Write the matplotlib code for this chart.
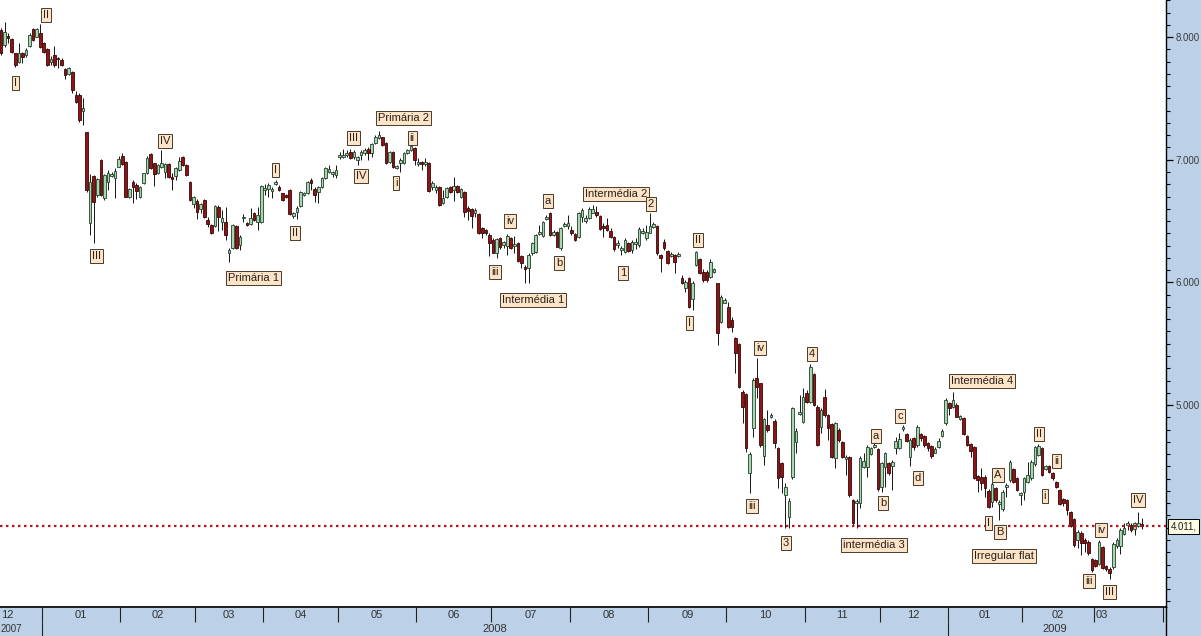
import matplotlib
matplotlib.use("Agg")
import matplotlib.pyplot as plt
import numpy as np
from matplotlib.ticker import MultipleLocator, FixedLocator, FuncFormatter

# ---------------- data ----------------
opens = [8057,7935,8009,7982,7867,7799,7872,7854,7929,8066,8003,8030,7949,7900,7799,7854,7832,7813,7737,7696,
         7718,7528,7528,7400,7223,6482,6870,6712,6998,6686,6821,6870,6848,6943,7030,6984,6694,6821,6794,6694,
         6808,6894,7047,6971,6889,6938,6902,6965,6862,6870,6916,7020,6957,6821,6639,6666,6598,6672,6509,6468,
         6460,6617,6495,6495,6237,6278,6460,6305,6522,6487,6476,6568,6495,6495,6753,6759,6745,6802,6780,6726,
         6712,6753,6541,6576,6623,6712,6726,6835,6759,6739,6775,6848,6902,6884,6875,7020,7025,7038,7065,7020,
         6998,7038,7052,7085,7057,7134,7175,7183,7139,6984,7065,6930,6971,6971,7052,7079,7093,6965,6984,6965,
         6971,6780,6753,6780,6650,6699,6780,6753,6786,6694,6739,6604,6596,6568,6557,6441,6427,6386,6346,6237,
         6359,6305,6297,6359,6297,6324,6215,6128,6115,6237,6250,6394,6378,6514,6568,6386,6413,6278,6460,6460,
         6427,6394,6372,6535,6500,6522,6568,6576,6541,6460,6468,6421,6372,6305,6264,6250,6324,6264,6313,6305,
         6405,6359,6405,6454,6460,6223,6332,6258,6215,6223,6215,6033,5952,6033,5862,6142,6188,6087,6087,6047,
         6087,5992,5680,5835,5802,5693,5544,5498,5109,5090,4444,4810,5218,5177,4585,4837,4900,4872,4647,4530,
         4267,4085,4416,4701,4927,4864,5101,5027,5253,4987,4824,5063,4919,4846,4566,4797,4701,4558,4574,4226,
         4204,4199,4498,4498,4601,4655,4639,4334,4493,4530,4503,4647,4647,4802,4764,4574,4729,4674,4764,4748,
         4688,4666,4612,4655,4748,4851,5014,4987,5000,4884,4892,4748,4682,4655,4422,4416,4416,4302,4212,4321,
         4193,4150,4330,4389,4476,4403,4267,4294,4375,4403,4519,4593,4647,4476,4503,4449,4375,4307,4232,4226,
         4131,4069,3900,3960,3900,3886,3743,3737,3704,3840,3688,3661,3677,3851,3851,3949,4022,4022,3987,4014,
         4030]
highs = [8071,8125,8030,7990,7872,7949,7881,7908,8030,8071,8071,8106,7962,7908,7846,7927,7840,7827,7745,7758,
         7723,7560,7541,7501,7228,6884,6875,6848,7003,6884,6916,6902,6930,7030,7057,6992,6767,6835,6808,6786,
         6894,7030,7057,6976,6965,7079,6976,6976,6889,6938,7025,7030,6965,6829,6704,6677,6650,6677,6531,6476,
         6631,6631,6590,6617,6278,6476,6468,6386,6557,6495,6604,6576,6612,6794,6802,6808,6775,6835,6794,6731,
         6720,6759,6576,6623,6745,6739,6829,6848,6775,6786,6862,6943,6957,6910,6957,7065,7085,7079,7085,7079,
         7030,7079,7093,7101,7134,7201,7236,7188,7147,7073,7073,6957,7011,7065,7085,7139,7101,7011,6992,7011,
         6984,6829,6794,6786,6753,6780,6786,6862,6794,6767,6747,6623,6604,6604,6563,6454,6433,6400,6359,6359,
         6372,6340,6394,6372,6378,6332,6223,6142,6237,6332,6394,6468,6503,6549,6576,6427,6421,6449,6495,6549,
         6460,6405,6571,6604,6549,6612,6631,6623,6549,6482,6522,6441,6378,6346,6297,6359,6332,6346,6359,6449,
         6441,6468,6563,6495,6468,6231,6351,6264,6250,6231,6250,6060,6019,6041,6014,6258,6196,6107,6101,6188,
         6115,5997,5897,5870,5843,5720,5557,5503,5123,5101,4620,5218,5381,5182,4892,4960,4933,4884,4660,4538,
         4362,4240,4987,4810,5082,5137,5123,5335,5264,5000,4973,5128,4927,4856,4864,4810,4709,4593,4585,4232,
         4232,4585,4607,4674,4660,4688,4647,4538,4620,4538,4552,4742,4770,4837,4775,4729,4742,4837,4775,4756,
         4701,4674,4660,4729,4802,5055,5027,5109,5014,4919,4905,4756,4693,4666,4430,4484,4430,4313,4375,4334,
         4226,4307,4362,4552,4484,4411,4294,4416,4538,4552,4666,4682,4655,4511,4511,4457,4383,4313,4240,4232,
         4139,4077,3981,3976,3914,3900,3751,3743,3900,3851,3696,3682,3886,3914,3995,4036,4057,4036,4049,4131,
         4077]
lows = [7854,7921,7949,7872,7758,7786,7786,7840,7921,7970,7998,7908,7872,7764,7772,7758,7745,7764,7656,7691,
        7546,7465,7310,7283,6739,6386,6324,6699,6704,6672,6753,6862,6686,6938,6957,6694,6686,6650,6677,6686,
        6802,6884,6922,6786,6884,6930,6848,6848,6753,6835,6910,6949,6867,6666,6604,6514,6568,6522,6454,6392,
        6454,6421,6427,6346,6169,6270,6270,6264,6495,6460,6468,6503,6427,6487,6712,6694,6686,6794,6745,6666,
        6686,6549,6522,6514,6617,6704,6720,6753,6658,6650,6767,6840,6889,6862,6848,7003,7011,7025,7003,7003,
        6957,6998,7038,6998,7025,7126,7169,7112,6963,6976,6935,6922,6902,6965,7047,7073,6957,6949,6916,6949,
        6739,6753,6726,6623,6639,6690,6731,6666,6731,6686,6535,6509,6441,6535,6394,6359,6386,6215,6237,6196,
        6275,6278,6223,6270,6237,6169,6115,5997,5992,6223,6242,6386,6372,6509,6378,6378,6286,6264,6449,6433,
        6386,6340,6359,6495,6487,6514,6563,6535,6427,6372,6421,6359,6258,6278,6223,6237,6250,6237,6270,6291,
        6394,6346,6400,6441,6223,6087,6264,6150,6204,6079,6204,5985,5924,5789,5775,6134,6068,6006,6006,6033,
        6074,5490,5666,5830,5626,5598,5259,5137,4851,4620,4281,4742,5055,4660,4511,4783,4892,4647,4321,4281,
        3998,3998,4395,4607,4919,4851,5019,5019,4992,4666,4770,4900,4715,4566,4484,4701,4566,4430,4253,4022,
        3998,4158,4484,4416,4593,4647,4302,4294,4334,4430,4307,4601,4639,4791,4701,4503,4634,4660,4709,4660,
        4628,4566,4607,4647,4742,4837,4919,4973,4900,4878,4756,4666,4579,4395,4294,4307,4248,4158,4171,4212,
        4063,4139,4253,4375,4362,4302,4185,4226,4367,4389,4503,4585,4422,4470,4444,4389,4321,4185,4177,4104,
        4004,3845,3832,3778,3805,3778,3642,3682,3696,3661,3650,3580,3661,3832,3786,3940,3981,3968,3940,4008,
        3987]
closes = [7867,8044,7990,7881,7772,7872,7840,7894,8017,7976,8066,7921,7881,7772,7819,7772,7821,7772,7691,7750,
          7568,7473,7324,7419,6753,6821,6653,6840,6712,6875,6889,6884,6910,7003,6965,6699,6759,6780,6747,6775,
          6889,7011,6930,6884,6957,6971,6965,6862,6843,6930,6992,6957,6875,6672,6694,6576,6639,6531,6474,6400,
          6623,6535,6522,6386,6264,6468,6278,6372,6535,6468,6522,6509,6549,6786,6767,6794,6761,6821,6753,6672,
          6694,6557,6568,6609,6739,6731,6821,6808,6712,6780,6848,6930,6922,6902,6916,7038,7038,7052,7011,7065,
          7020,7065,7079,7057,7126,7188,7201,7120,6971,7065,6943,6949,6998,7057,7079,7112,6998,6981,6965,6984,
          6747,6813,6780,6631,6686,6772,6739,6786,6739,6759,6576,6584,6541,6590,6400,6400,6400,6318,6242,6351,
          6286,6332,6378,6278,6313,6177,6156,6107,6223,6324,6386,6413,6495,6535,6386,6413,6291,6441,6476,6487,
          6400,6346,6563,6590,6522,6596,6596,6549,6433,6441,6427,6372,6270,6318,6283,6346,6258,6332,6332,6433,
          6421,6413,6460,6476,6237,6196,6278,6156,6231,6169,6231,5992,6006,5797,5997,6250,6074,6019,6019,6169,
          6107,5585,5883,5856,5639,5639,5422,5150,4987,4647,4601,5204,5150,4674,4884,4797,4919,4688,4403,4416,
          4334,4220,4973,4791,4946,5068,5027,5308,5000,4674,4960,4919,4810,4579,4856,4715,4574,4579,4267,4036,
          4220,4566,4546,4655,4647,4674,4313,4525,4612,4444,4538,4709,4721,4824,4709,4715,4655,4824,4729,4674,
          4647,4585,4639,4709,4791,5041,4973,5041,4905,4911,4764,4674,4628,4403,4389,4362,4321,4171,4356,4226,
          4212,4294,4348,4538,4375,4307,4286,4403,4430,4538,4655,4666,4430,4503,4457,4403,4330,4193,4199,4144,
          4014,3859,3968,3873,3878,3791,3655,3688,3886,3669,3661,3633,3867,3900,3981,3995,4041,3981,4036,4036,
          4011]

# month cells of the time axis (positions in candle index units)
month_edges = [11.5, 33.5, 54.5, 73.5, 94.5, 116.5, 137.5, 159.5, 181.5, 203.5,
               225.5, 246.5, 265.5, 286.5, 306.5, 325.9]
month_names = ["12", "01", "02", "03", "04", "05", "06", "07", "08", "09",
               "10", "11", "12", "01", "02", "03"]
year_edges = [11.5, 265.5]
year_names = ["2007", "2008", "2009"]
last_price = 4011

wave_texts = ["I", "II", "III", "IV", "Primária 1", "I", "II", "III", "IV", "Primária 2",
              "i", "ii", "iii", "iv", "Intermédia 1", "a", "b", "Intermédia 2", "2", "1",
              "II", "I", "iv", "4", "iii", "3", "intermédia 3", "a", "b", "c", "d",
              "Intermédia 4", "A", "I", "B", "Irregular flat", "II", "ii", "i", "iv",
              "iii", "III", "IV"]
wave_x = [4.2, 12.6, 26.9, 46.0, 70.7, 77.1, 82.5, 99.0, 101.0, 112.8,
          110.8, 115.3, 138.6, 142.8, 149.2, 153.4, 156.5, 172.5, 182.3, 174.5,
          195.5, 193.0, 212.9, 227.5, 210.7, 220.2, 244.9, 245.4, 247.4, 252.2, 257.2,
          275.2, 279.7, 276.9, 280.2, 281.3, 291.2, 296.2, 292.8, 308.6,
          305.2, 310.8, 318.9]
wave_y = [7625, 8180, 6215, 7153, 6036, 6916, 6403, 7177, 6867, 7340,
          6810, 7177, 6085, 6500, 5856, 6663, 6158, 6720, 6639, 6076,
          6345, 5669, 5465, 5416, 4177, 3875, 3859, 4748, 4202, 4911, 4405,
          5196, 4430, 4038, 3965, 3770, 4764, 4544, 4259, 3981,
          3566, 3476, 4226]

# ---------------- style ----------------
W, H = 1201, 636
BLUE = "#bcd1e8"
UP = "#a6d7ae"
UP_EDGE = "#23402a"
DOWN = "#8e1515"
DOWN_EDGE = "#3a0505"
LABEL_BG = "#fde3c8"
FONT = "Liberation Sans"

fig = plt.figure(figsize=(W / 100, H / 100), dpi=100, facecolor=BLUE)
x_left, x_right = -1 / 3.565, 1165 / 3.565
ax = fig.add_axes([0, 29 / H, 1166 / W, 607 / H])
ax.set_facecolor("white")
ax.set_xlim(x_left, x_right)
ax.set_ylim(8302 - 8.152 * 607, 8302)

o = np.array(opens, float)
h = np.array(highs, float)
l = np.array(lows, float)
c = np.array(closes, float)
idx = np.arange(len(c))
up = c >= o
body_lo = np.minimum(o, c)
body_h = np.maximum(np.abs(c - o), 9)

ax.vlines(idx, l, h, color="#151515", lw=0.7, zorder=2)
ax.bar(idx[up], body_h[up], bottom=body_lo[up], width=0.74, color=UP,
       edgecolor=UP_EDGE, linewidth=0.6, zorder=3)
ax.bar(idx[~up], body_h[~up], bottom=body_lo[~up], width=0.74, color=DOWN,
       edgecolor=DOWN_EDGE, linewidth=0.6, zorder=3)

ax.axhline(last_price, color="#b3161b", lw=1.6, ls=(0, (1.1, 1.6)), zorder=4)

for t, xx, yy in zip(wave_texts, wave_x, wave_y):
    ax.text(xx, yy, t, ha="center", va="center", fontsize=8, family=FONT,
            color="#2a2018", zorder=6,
            bbox=dict(boxstyle="square,pad=0.18", fc=LABEL_BG, ec="#4a3a2a", lw=0.7))

# right axis
for s in ("top", "left"):
    ax.spines[s].set_visible(False)
ax.spines["right"].set_color("black")
ax.spines["right"].set_linewidth(1.0)
ax.spines["bottom"].set_color("black")
ax.spines["bottom"].set_linewidth(1.0)
ax.xaxis.set_visible(False)
ax.yaxis.tick_right()
ax.yaxis.set_major_locator(FixedLocator([5000, 6000, 7000, 8000]))
ax.yaxis.set_minor_locator(MultipleLocator(100))
ax.yaxis.set_major_formatter(FuncFormatter(lambda v, p: f"{int(v):,}".replace(",", ".")))
ax.tick_params(axis="y", which="major", direction="out", length=5, width=0.9,
               color="black", labelsize=7, labelcolor="#3c3c3c", pad=2)
ax.tick_params(axis="y", which="minor", direction="out", length=3, width=0.8, color="black")
for lab in ax.get_yticklabels():
    lab.set_family(FONT)

# last price tag
ax.text(1.004, last_price, "4.011,", transform=ax.get_yaxis_transform(),
        ha="left", va="center", fontsize=7, family=FONT, color="#222222", clip_on=False,
        bbox=dict(boxstyle="square,pad=0.25", fc="#fffbe3", ec="black", lw=0.7), zorder=7)

# time axis panel
ax2 = fig.add_axes([0, 0, 1166 / W, 29 / H])
ax2.set_facecolor(BLUE)
ax2.set_xlim(x_left, x_right)
ax2.set_ylim(0, 29)
ax2.set_xticks([])
ax2.set_yticks([])
for s in ("left", "bottom"):
    ax2.spines[s].set_visible(False)
ax2.spines["top"].set_color("black")
ax2.spines["top"].set_linewidth(1.2)
ax2.spines["right"].set_color("black")
ax2.spines["right"].set_linewidth(1.0)
ax2.vlines(month_edges, 14.5, 29, color="#222222", lw=0.8)
ax2.vlines(year_edges, 0, 14.5, color="#222222", lw=0.8)

centers = [(a + b) / 2 for a, b in zip([-8.0] + month_edges[:-1], month_edges)]
for k, (name, cx) in enumerate(zip(month_names, centers)):
    if k == len(month_names) - 1:
        ax2.text(month_edges[-2] + 0.6, 21.5, name, ha="left", va="center",
                 fontsize=8, family=FONT, color="#333333")
    else:
        ax2.text(cx, 21.5, name, ha="center", va="center", fontsize=8,
                 family=FONT, color="#333333")
# 2007 cell is mostly off-screen: keep its label fully visible at the left edge
ax2.text(x_left + 0.1, 7, year_names[0], ha="left", va="center", fontsize=7,
         family=FONT, color="#333333")
ax2.text((year_edges[0] + year_edges[1]) / 2, 7, year_names[1], ha="center", va="center",
         fontsize=8, family=FONT, color="#333333")
ax2.text((year_edges[1] + month_edges[-1]) / 2, 7, year_names[2], ha="center", va="center",
         fontsize=8, family=FONT, color="#333333")

fig.savefig("out.png", dpi=100, facecolor=BLUE)
